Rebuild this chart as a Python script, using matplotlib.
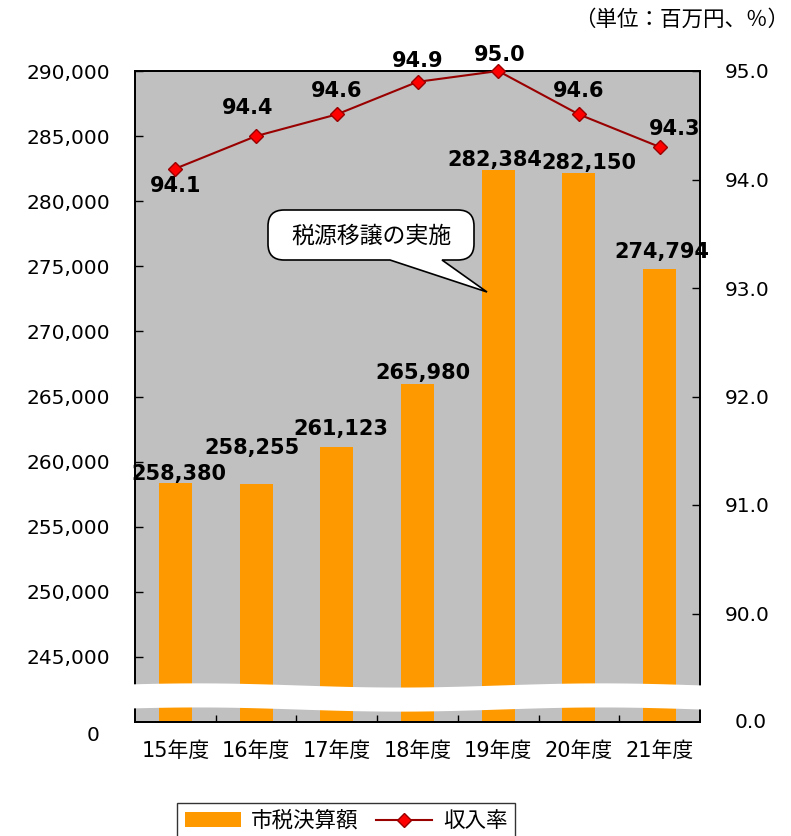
import numpy as np
import matplotlib
matplotlib.use("Agg")
import matplotlib.pyplot as plt
from matplotlib.path import Path
from matplotlib.patches import PathPatch, Patch
from matplotlib.lines import Line2D

plt.rcParams["font.family"] = ["DejaVu Sans", "Noto Sans CJK JP"]

W, H = 791, 836

years = ["15年度", "16年度", "17年度", "18年度", "19年度", "20年度", "21年度"]
tax = [258380, 258255, 261123, 265980, 282384, 282150, 274794]
rate = [94.1, 94.4, 94.6, 94.9, 95.0, 94.6, 94.3]
left_ticks = [245000, 250000, 255000, 260000, 265000, 270000, 275000, 280000, 285000, 290000]
right_ticks = [90.0, 91.0, 92.0, 93.0, 94.0, 95.0]

# label offsets (pixels)
tax_offsets = [(4, 9), (-4, 36), (4, 18), (5, 11), (-3, 10), (10, 10), (2, 17)]
rate_offsets = [(0, -17), (-8, 28), (0, 23), (0, 21), (1, 16), (0, 23), (15, 18)]

BAR = "#FF9900"
BG = "#C0C0C0"
LINE = "#990000"


def px(x, y):
    return x / W, 1 - y / H


def main() -> None:
    fig = plt.figure(figsize=(W / 100, H / 100), dpi=100)
    x0, y0 = px(135, 722)
    x1, y1 = px(700, 71)
    ax = fig.add_axes([x0, y0, x1 - x0, y1 - y0])
    ax.set_facecolor(BG)
    xs = np.arange(len(years))

    ax.bar(xs, tax, width=0.41, color=BAR, zorder=2)
    ax.set_xlim(-0.5, len(years) - 0.5)
    ax.set_ylim(240000, 290000)
    ax.set_yticks(left_ticks)
    ax.set_yticklabels([f"{v:,}" for v in left_ticks])
    ax.set_xticks(xs)
    ax.set_xticklabels(years)
    ax.set_xticks(xs[:-1] + 0.5, minor=True)
    ax.tick_params(axis="x", which="major", length=0, pad=14, labelsize=15)
    ax.tick_params(axis="x", which="minor", direction="in", length=5, width=1)
    ax.tick_params(axis="y", direction="in", length=6, width=1, pad=18, labelsize=14.5)
    ax.text(-0.063, -0.02, "0", transform=ax.transAxes, ha="right", va="center", fontsize=14.5)

    for i, v in enumerate(tax):
        dx, dy = tax_offsets[i]
        ax.annotate(f"{v:,}", (xs[i], v), xytext=(dx, dy), textcoords="offset pixels",
                    ha="center", va="center", fontsize=15, fontweight="bold", zorder=6,
                    annotation_clip=False)

    ax2 = ax.twinx()
    ax2.plot(xs, rate, color=LINE, lw=1.5, marker="D", ms=7, mfc="#FF0000", mec=LINE,
             mew=1, zorder=5, clip_on=False)
    ax2.set_ylim(89.0, 95.0)
    ax2.set_yticks(right_ticks)
    ax2.set_yticklabels([f"{v:.1f}" for v in right_ticks])
    ax2.tick_params(axis="y", direction="in", length=6, width=1, pad=18, labelsize=14.5)
    ax2.text(1.062, 0.0, "0.0", transform=ax2.transAxes, ha="left", va="center", fontsize=14.5)
    for i, v in enumerate(rate):
        dx, dy = rate_offsets[i]
        ax2.annotate(f"{v:.1f}", (xs[i], v), xytext=(dx, dy), textcoords="offset pixels",
                     ha="center", va="center", fontsize=15, fontweight="bold",
                     annotation_clip=False)

    for a in (ax, ax2):
        for s in a.spines.values():
            s.set_color("black")
            s.set_linewidth(1.3)
            s.set_zorder(3)

    # axis break band
    bx = np.linspace(-0.012, 1.012, 300)
    mid = 0.0384 + 0.0032 * np.sin(2 * np.pi * bx * 1.4 + 0.6)
    ax2.fill_between(bx, mid - 0.0185, mid + 0.0185, color="white", transform=ax2.transAxes,
                     clip_on=False, zorder=20, lw=0)

    # callout bubble
    bx0, by0, bx1, by1, r = 268, 210, 474, 260, 16
    pts = [
        ((bx0 + r, by0), Path.MOVETO), ((bx1 - r, by0), Path.LINETO),
        ((bx1, by0), Path.CURVE3), ((bx1, by0 + r), Path.CURVE3),
        ((bx1, by1 - r), Path.LINETO),
        ((bx1, by1), Path.CURVE3), ((bx1 - r, by1), Path.CURVE3),
        ((442, by1), Path.LINETO), ((487, 292), Path.LINETO), ((390, by1), Path.LINETO),
        ((bx0 + r, by1), Path.LINETO),
        ((bx0, by1), Path.CURVE3), ((bx0, by1 - r), Path.CURVE3),
        ((bx0, by0 + r), Path.LINETO),
        ((bx0, by0), Path.CURVE3), ((bx0 + r, by0), Path.CURVE3),
        ((bx0 + r, by0), Path.CLOSEPOLY),
    ]
    verts = [px(*p) for p, _ in pts]
    codes = [c for _, c in pts]
    fig.add_artist(PathPatch(Path(verts, codes), facecolor="white", edgecolor="black",
                             lw=1.2, transform=fig.transFigure, zorder=8))
    fig.text(*px(371, 236), "税源移譲の実施", ha="center", va="center", fontsize=16.5, zorder=9)

    fig.text(*px(789, 20), "（単位：百万円、％）", ha="right", va="center", fontsize=15.5,
             family=["Noto Sans CJK JP", "DejaVu Sans"])

    handles = [Patch(facecolor=BAR, edgecolor="none"),
               Line2D([], [], color=LINE, lw=1.5, marker="D", ms=7, mfc="#FF0000", mec=LINE)]
    leg = fig.legend(handles, ["市税決算額", "収入率"], loc="upper left",
                     bbox_to_anchor=px(177, 803), ncol=2, fontsize=15.5, frameon=True,
                     fancybox=False, edgecolor="black", borderaxespad=0, handlelength=2.6,
                     columnspacing=0.8, handletextpad=0.5, borderpad=0.35)
    leg.get_frame().set_linewidth(1.0)

    fig.savefig("out.png", dpi=100)


if __name__ == "__main__":
    main()
